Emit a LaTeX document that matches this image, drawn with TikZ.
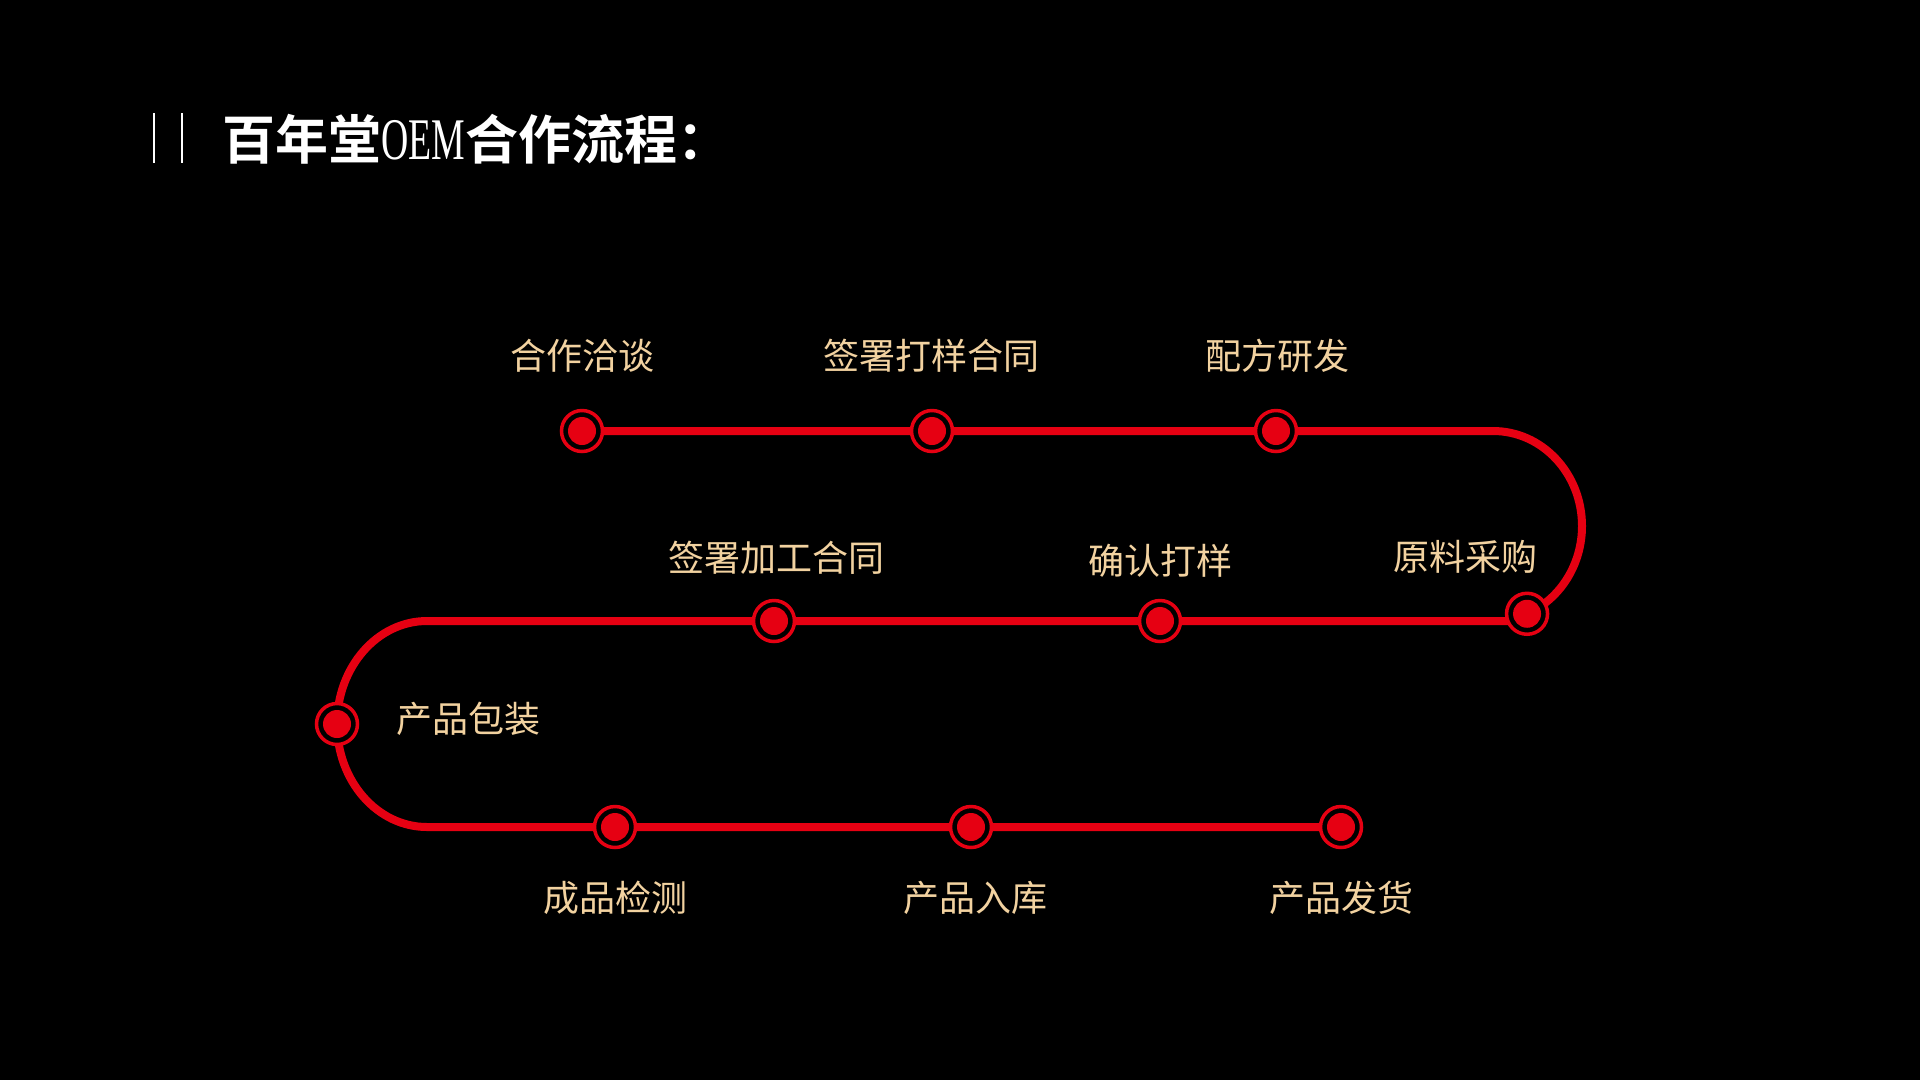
\documentclass[tikz,border=0pt]{standalone}
\usepackage{fontspec}
\newfontfamily\cjk{Noto Sans CJK SC}
\newfontfamily\cjkbold{Noto Sans CJK SC Bold}
\newfontfamily\oemfont{Liberation Serif}[FakeStretch=0.64]
\definecolor{trackred}{HTML}{E60012}
\definecolor{labeltan}{HTML}{F2D2A0}
\tikzset{
  track/.style={draw=trackred, line width=8pt},
  stopdot/.style={circle, draw=trackred, line width=3.5pt, fill=black, minimum size=41pt, inner sep=0pt,
    path picture={\fill[trackred] (path picture bounding box.center) circle (14pt);}},
  steplabel/.style={text=labeltan, inner sep=0pt, font=\cjk\fontsize{36}{40}\selectfont},
  titlebar/.style={draw=white, line width=2pt}
}
\begin{document}
\begin{tikzpicture}[x=1pt,y=-1pt]
\fill[black] (0,0) rectangle (1920,1080);
\useasboundingbox (0,0) rectangle (1920,1080);
% title
\coordinate (b1t) at (154,113); \coordinate (b1b) at (154,163);
\coordinate (b2t) at (182,113); \coordinate (b2b) at (182,163);
\draw[titlebar] (b1t) -- (b1b);
\draw[titlebar] (b2t) -- (b2b);
\node[anchor=west, inner sep=0pt, text=white, font=\fontsize{53}{60}\selectfont] (title) at (222,139)
  {{\cjkbold 百年堂}{\oemfont\fontsize{59}{60}\selectfont OEM}{\cjkbold 合作流程：}};
% track coordinates
\coordinate (p1) at (582,431);
\coordinate (p2) at (932,431);
\coordinate (p3) at (1276,431);
\coordinate (r1) at (1493,431);
\coordinate (r2) at (1520,621);
\coordinate (p5) at (1160,621);
\coordinate (p6) at (774,621);
\coordinate (l1) at (427,621);
\coordinate (l2) at (427,827);
\coordinate (p8) at (615,827);
\coordinate (p9) at (971,827);
\coordinate (p10) at (1341,827);
\draw[track] (p1) -- (p2) -- (p3) -- (r1)
  arc[start angle=90, end angle=-67.5, x radius=89pt, y radius=95pt] coordinate (p4);
\draw[track] (r2) -- (p5) -- (p6) -- (l1)
  arc[start angle=90, end angle=180, x radius=90pt, y radius=103pt] coordinate (p7)
  arc[start angle=180, end angle=270, x radius=90pt, y radius=103pt] -- (p8) -- (p9) -- (p10);
% stops
\foreach \p in {p1,p2,p3,p4,p5,p6,p7,p8,p9,p10}{
  \node[stopdot] (n\p) at (\p) {};
}
% labels
\node[steplabel] (t1) at (582,356) {合作洽谈};
\node[steplabel] (t2) at (931,356) {签署打样合同};
\node[steplabel] (t3) at (1277,356) {配方研发};
\node[steplabel] (t4) at (1465,557) {原料采购};
\node[steplabel] (t5) at (1160,561) {确认打样};
\node[steplabel] (t6) at (776,558) {签署加工合同};
\node[steplabel, anchor=west] (t7) at (396,719) {产品包装};
\node[steplabel] (t8) at (615,898) {成品检测};
\node[steplabel] (t9) at (975,898) {产品入库};
\node[steplabel] (t10) at (1341,898) {产品发货};
\end{tikzpicture}
\end{document}
